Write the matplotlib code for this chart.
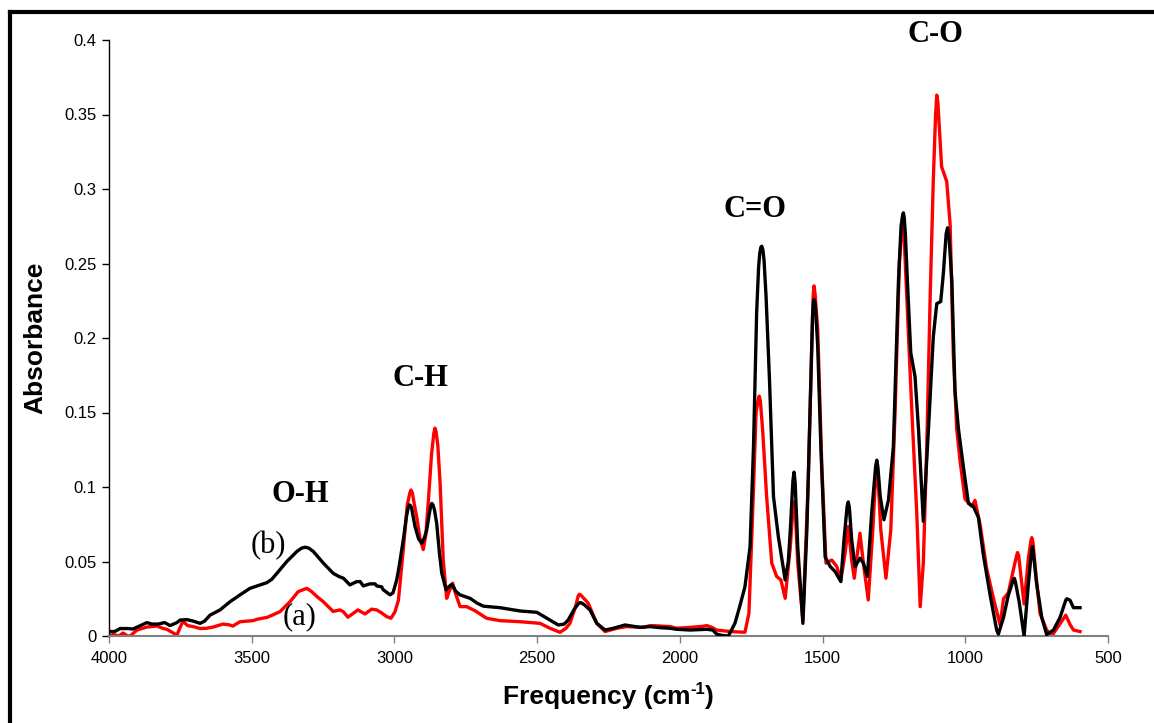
import matplotlib
matplotlib.use("Agg")
import matplotlib.pyplot as plt
from matplotlib.lines import Line2D

# FTIR spectra: wavenumber (cm-1) and absorbance
freq_b = [4000, 3980, 3961, 3935, 3916, 3890, 3867, 3850, 3828, 3805, 3786, 3762,
          3751, 3727, 3705, 3681, 3665, 3646, 3611, 3576, 3541, 3506, 3471, 3447,
          3430, 3412, 3377, 3342, 3325, 3313, 3300, 3284, 3249, 3214, 3195, 3179,
          3156, 3132, 3120, 3109, 3086, 3068, 3062, 3045, 3039, 3015, 3005, 2992,
          2985, 2969, 2958, 2952, 2948, 2944, 2940, 2928, 2915, 2904, 2895, 2887, 2878, 2873, 2869,
          2865, 2860, 2852, 2842, 2834, 2819, 2810, 2799, 2785, 2770, 2735, 2710, 2688,
          2630, 2560, 2501, 2466, 2440, 2426, 2405, 2391, 2370, 2355, 2350, 2345, 2335, 2315,
          2291, 2262, 2233, 2192, 2140, 2104, 2070, 2034, 2011, 1964, 1906, 1885,
          1871, 1850, 1830, 1807, 1790, 1772, 1754, 1742, 1731, 1724, 1720, 1716, 1713, 1709, 1705,
          1698, 1686, 1672, 1655, 1631, 1620, 1613, 1604, 1600, 1596, 1590, 1587, 1569, 1555,
          1544, 1535, 1532, 1530, 1527, 1524, 1517, 1506, 1491, 1473, 1456, 1436, 1425, 1414, 1410, 1406,
          1398, 1386, 1369, 1357, 1343, 1328, 1314, 1310, 1306, 1298, 1285, 1269, 1252, 1234,
          1225, 1220, 1217, 1214, 1210, 1203, 1191, 1176, 1164, 1147, 1129, 1112, 1100, 1086,
          1077, 1067, 1062, 1057, 1047, 1036, 1024, 1007, 989, 972, 954, 937, 913, 890,
          884, 870, 866, 849, 831, 828, 824, 811, 794, 779, 768, 765, 762, 750, 732, 715,
          691, 668, 648, 644, 633, 621, 598]
abs_b = [0.003, 0.003, 0.005, 0.005, 0.0047, 0.007, 0.009, 0.008, 0.008, 0.009, 0.007, 0.009,
         0.0107, 0.011, 0.010, 0.0085, 0.010, 0.014, 0.0175, 0.023, 0.0276, 0.032, 0.0343, 0.0358,
         0.038, 0.042, 0.050, 0.0567, 0.059, 0.0596, 0.059, 0.0567, 0.0489, 0.042, 0.040, 0.0388,
         0.0343, 0.0365, 0.0365, 0.0336, 0.035, 0.035, 0.0336, 0.033, 0.031, 0.0276, 0.029, 0.0376,
         0.045, 0.0645, 0.080, 0.086, 0.088, 0.0875, 0.086, 0.0735, 0.065, 0.0623, 0.066, 0.071, 0.082, 0.087, 0.089,
         0.088, 0.085, 0.0757, 0.055, 0.042, 0.031, 0.033, 0.0347, 0.030, 0.0276, 0.0253, 0.022, 0.020,
         0.019, 0.0168, 0.0159, 0.0119, 0.009, 0.0074, 0.008, 0.0108, 0.018, 0.0218, 0.0224, 0.0222, 0.021, 0.0175,
         0.0085, 0.004, 0.0052, 0.0074, 0.0058, 0.0063, 0.0056, 0.0052, 0.0045, 0.004, 0.0045, 0.004,
         0.0013, 0.0003, 0.0, 0.0085, 0.020, 0.033, 0.060, 0.127, 0.217, 0.248, 0.257, 0.261, 0.2616, 0.259, 0.252,
         0.228, 0.172, 0.0936, 0.0667, 0.0376, 0.050, 0.0712, 0.104, 0.110, 0.103, 0.075, 0.060, 0.0085, 0.0712,
         0.150, 0.215, 0.224, 0.2258, 0.224, 0.218, 0.1944, 0.127, 0.053, 0.0466, 0.0432, 0.0365, 0.0645, 0.087, 0.090, 0.086,
         0.0645, 0.0466, 0.0522, 0.0489, 0.040, 0.0825, 0.114, 0.118, 0.113, 0.0936, 0.078, 0.0914, 0.127, 0.239,
         0.275, 0.282, 0.284, 0.281, 0.270, 0.239, 0.190, 0.174, 0.139, 0.077, 0.139, 0.201, 0.223, 0.2245,
         0.243, 0.270, 0.274, 0.268, 0.238, 0.164, 0.139, 0.114, 0.089, 0.087, 0.0796, 0.0548, 0.0275, 0.004,
         0.0013, 0.010, 0.0125, 0.0275, 0.0380, 0.0387, 0.036, 0.0226, 0.0, 0.035, 0.057, 0.060, 0.057, 0.035, 0.0125, 0.001,
         0.004, 0.0125, 0.024, 0.025, 0.024, 0.019, 0.019]

freq_a = [4000, 3985, 3965, 3951, 3935, 3926, 3902, 3867, 3832, 3810, 3797, 3775,
          3762, 3750, 3741, 3725, 3705, 3680, 3658, 3635, 3611, 3601, 3580, 3566,
          3541, 3495, 3482, 3446, 3401, 3366, 3337, 3307, 3290, 3271, 3249, 3215,
          3191, 3179, 3163, 3128, 3103, 3080, 3062, 3045, 3027, 3012, 2998, 2986,
          2969, 2955, 2946, 2942, 2937, 2930, 2922, 2910, 2899, 2890, 2881, 2870, 2862, 2858, 2854, 2848,
          2840, 2829, 2817, 2808, 2796, 2785, 2770, 2747, 2718, 2677, 2630, 2560,
          2490, 2455, 2420, 2400, 2385, 2365, 2356, 2352, 2347, 2340, 2321, 2291, 2262, 2221,
          2186, 2128, 2104, 2070, 2034, 2011, 1964, 1920, 1906, 1890, 1871, 1824,
          1772, 1758, 1745, 1733, 1726, 1722, 1718, 1710, 1696, 1678, 1661, 1646, 1631, 1613,
          1604, 1600, 1596, 1587, 1569, 1550, 1538, 1533, 1530, 1526, 1517, 1503, 1488, 1468, 1450, 1436,
          1421, 1410, 1398, 1389, 1378, 1369, 1357, 1340, 1324, 1314, 1310, 1306, 1296, 1278,
          1261, 1246, 1231, 1223, 1219, 1215, 1205, 1187, 1170, 1158, 1147, 1135, 1123, 1112,
          1104, 1100, 1096, 1092, 1083, 1065, 1053, 1042, 1030, 1018, 1001, 977, 966, 948,
          925, 901, 878, 866, 849, 831, 820, 817, 813, 805, 794, 779, 770, 767, 763, 752,
          738, 715, 697, 674, 648, 633, 621, 598]
abs_a = [0.0, 0.001, 0.0, 0.002, 0.0, 0.0, 0.004, 0.006, 0.0067, 0.005, 0.0045, 0.002,
         0.0007, 0.006, 0.010, 0.007, 0.0063, 0.005, 0.0052, 0.006, 0.0074, 0.008, 0.0075, 0.0067,
         0.0096, 0.0103, 0.0112, 0.0125, 0.0163, 0.023, 0.0298, 0.032, 0.0298, 0.0264, 0.023, 0.0165,
         0.0175, 0.0163, 0.0126, 0.0175, 0.0148, 0.018, 0.0175, 0.0155, 0.013, 0.0119, 0.0163, 0.024,
         0.058, 0.088, 0.096, 0.098, 0.096, 0.088, 0.080, 0.065, 0.058, 0.068, 0.091, 0.122, 0.136, 0.1395, 0.137, 0.128,
         0.1026, 0.051, 0.0253, 0.030, 0.0354, 0.028, 0.0197, 0.0197, 0.017, 0.0119, 0.0103, 0.0096,
         0.0085, 0.0052, 0.0025, 0.005, 0.0085, 0.020, 0.027, 0.028, 0.0275, 0.026, 0.022, 0.0085, 0.003, 0.0052,
         0.0063, 0.0058, 0.007, 0.0067, 0.0063, 0.0052, 0.0058, 0.0065, 0.007, 0.006, 0.004, 0.003,
         0.0025, 0.0152, 0.0825, 0.150, 0.158, 0.161, 0.158, 0.1384, 0.0936, 0.0489, 0.040, 0.0376, 0.0253, 0.060,
         0.085, 0.090, 0.085, 0.0489, 0.0108, 0.1048, 0.194, 0.228, 0.235, 0.229, 0.2056, 0.116, 0.0489, 0.051, 0.0466, 0.0376,
         0.0556, 0.0735, 0.051, 0.0388, 0.0556, 0.069, 0.0489, 0.0242, 0.0712, 0.107, 0.1116, 0.107, 0.0712, 0.0388,
         0.0712, 0.150, 0.250, 0.272, 0.277, 0.271, 0.228, 0.150, 0.0825, 0.0197, 0.0489, 0.127, 0.228, 0.3065,
         0.350, 0.363, 0.358, 0.345, 0.315, 0.305, 0.276, 0.189, 0.139, 0.117, 0.092, 0.087, 0.091, 0.0746,
         0.045, 0.025, 0.0074, 0.025, 0.029, 0.045, 0.054, 0.056, 0.054, 0.040, 0.0215, 0.052, 0.064, 0.066, 0.063, 0.040,
         0.015, 0.004, 0.0, 0.0065, 0.014, 0.0077, 0.004, 0.003]

x_ticks = [4000, 3500, 3000, 2500, 2000, 1500, 1000, 500]
y_ticks = [0, 0.05, 0.1, 0.15, 0.2, 0.25, 0.3, 0.35, 0.4]
y_tick_labels = ["0", "0.05", "0.1", "0.15", "0.2", "0.25", "0.3", "0.35", "0.4"]

# band assignments: (label, wavenumber, absorbance)
bands = [("O-H", 3331, 0.0947), ("C-H", 2910, 0.173), ("C=O", 1737, 0.286), ("C-O", 1106, 0.404)]
sample_tags = [("(b)", 3443, 0.061), ("(a)", 3334, 0.0128)]

W, H, DPI = 1154, 723, 100
fig = plt.figure(figsize=(W / DPI, H / DPI), dpi=DPI)
ax = fig.add_axes([109 / W, 87 / H, 999 / W, 596 / H])

ax.plot(freq_a, abs_a, color="#ff0000", lw=2.4, solid_joinstyle="round", zorder=2)
ax.plot(freq_b, abs_b, color="#000000", lw=2.4, solid_joinstyle="round", zorder=3)

ax.set_xlim(4000, 500)
ax.set_ylim(0, 0.4)
ax.set_xticks(x_ticks)
ax.set_xticklabels([str(t) for t in x_ticks])
ax.set_yticks(y_ticks)
ax.set_yticklabels(y_tick_labels)

for side in ("top", "right"):
    ax.spines[side].set_visible(False)
ax.spines["left"].set_color("black")
ax.spines["left"].set_linewidth(1.0)
ax.spines["bottom"].set_color("#808080")
ax.spines["bottom"].set_linewidth(1.5)

sans = ["Liberation Sans", "DejaVu Sans"]
serif = ["Liberation Serif", "DejaVu Serif"]
ax.tick_params(axis="y", direction="out", length=5, width=1, color="black",
               labelsize=12, pad=4)
ax.tick_params(axis="x", direction="out", length=5, width=1, color="#808080",
               labelsize=12, pad=6)
for lab in ax.get_xticklabels() + ax.get_yticklabels():
    lab.set_fontfamily(sans)

ax.set_ylabel("Absorbance", fontsize=19, fontweight="bold", family=sans, labelpad=12)

# x-axis label built from pieces so the superscript keeps a plain hyphen
ax.text(0.5816, -0.083, "Frequency (cm", transform=ax.transAxes, ha="right",
        va="top", fontsize=19, fontweight="bold", family=sans)
ax.text(0.5816, -0.078, "-1", transform=ax.transAxes, ha="left", va="top",
        fontsize=12, fontweight="bold", family=sans)
ax.text(0.5966, -0.083, ")", transform=ax.transAxes, ha="left", va="top",
        fontsize=19, fontweight="bold", family=sans)

for text, fx, fy in bands:
    ax.text(fx, fy, text, ha="center", va="center", fontsize=22, fontweight="bold",
            family=serif, clip_on=False)
for text, fx, fy in sample_tags:
    ax.text(fx, fy, text, ha="center", va="center", fontsize=22, family=serif)

# outer frame (left and top edges)
fig.add_artist(Line2D([9.5 / W, 9.5 / W], [0, 1 - 11.5 / H], transform=fig.transFigure,
                      color="black", lw=3, solid_capstyle="projecting"))
fig.add_artist(Line2D([9.5 / W, 1], [1 - 11.5 / H, 1 - 11.5 / H], transform=fig.transFigure,
                      color="black", lw=3, solid_capstyle="projecting"))

fig.savefig("out.png", dpi=DPI)
